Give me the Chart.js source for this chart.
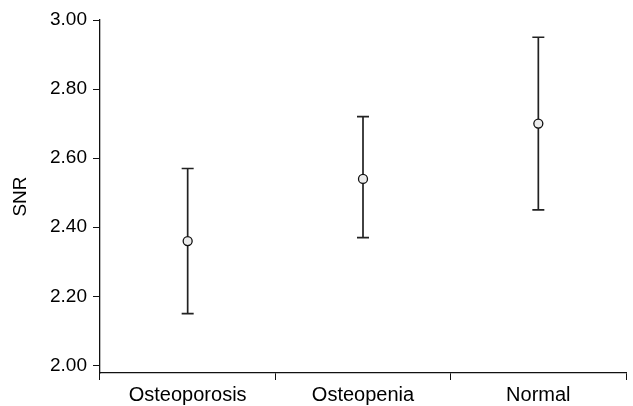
<!DOCTYPE html>
<html>
<head>
<meta charset="utf-8">
<script src="https://cdn.jsdelivr.net/npm/chart.js@4/dist/chart.umd.min.js"></script>
<style>
  html, body { margin: 0; padding: 0; background: #fff; }
  #wrap { width: 633px; height: 406px; }
</style>
</head>
<body>
<div id="wrap"><canvas id="out"></canvas></div>
<script>
const groups = ["Osteoporosis", "Osteopenia", "Normal"];
const snrMean = [2.36, 2.54, 2.70];
const snrLow = [2.15, 2.37, 2.45];
const snrHigh = [2.57, 2.72, 2.95];
const yTicks = [2.0, 2.2, 2.4, 2.6, 2.8, 3.0];

const fontFamily = "'Liberation Sans', Arial, sans-serif";

// whiskers drawn under the points, positioned through the chart scales
const errorBars = {
  id: "errorBars",
  beforeDatasetsDraw(chart) {
    const ctx = chart.ctx;
    const xs = chart.scales.x;
    const ys = chart.scales.y;
    ctx.save();
    ctx.strokeStyle = "#222";
    ctx.lineWidth = 1.7;
    for (let i = 0; i < groups.length; i++) {
      const x = xs.getPixelForValue(i);
      const top = ys.getPixelForValue(snrHigh[i]);
      const bottom = ys.getPixelForValue(snrLow[i]);
      ctx.beginPath();
      ctx.moveTo(x, top);
      ctx.lineTo(x, bottom);
      ctx.moveTo(x - 6, top);
      ctx.lineTo(x + 6, top);
      ctx.moveTo(x - 6, bottom);
      ctx.lineTo(x + 6, bottom);
      ctx.stroke();
    }
    ctx.restore();
  }
};

const chartConfig = {
  type: "line",
  data: {
    labels: groups,
    datasets: [{
      label: "SNR",
      data: snrMean,
      showLine: false,
      pointRadius: 4.5,
      pointHoverRadius: 4.5,
      pointBackgroundColor: "#ececec",
      pointBorderColor: "#111",
      pointBorderWidth: 1.3
    }]
  },
  options: {
    responsive: true,
    maintainAspectRatio: false,
    animation: false,
    layout: { padding: { top: 20, right: 7, bottom: 0, left: 0 } },
    plugins: {
      legend: { display: false },
      tooltip: { enabled: false }
    },
    scales: {
      x: {
        type: "category",
        offset: true,
        grid: {
          offset: true,
          drawOnChartArea: false,
          drawTicks: true,
          tickLength: 7,
          color: "#111",
          lineWidth: 1
        },
        border: { display: true, color: "#111", width: 1.3 },
        ticks: {
          color: "#000",
          padding: 3,
          maxRotation: 0,
          font: { family: fontFamily, size: 20 }
        },
        afterFit: s => { s.height = 33; }
      },
      y: {
        min: 1.978,
        max: 3.0,
        afterBuildTicks: s => { s.ticks = yTicks.map(v => ({ value: v })); },
        grid: {
          drawOnChartArea: false,
          drawTicks: true,
          tickLength: 7,
          color: "#111",
          lineWidth: 1
        },
        border: { display: true, color: "#111", width: 1.3 },
        ticks: {
          color: "#000",
          padding: 6,
          font: { family: fontFamily, size: 19 },
          callback: v => Number(v).toFixed(2)
        },
        title: {
          display: true,
          text: "SNR",
          color: "#000",
          padding: { top: 9, bottom: 0 },
          font: { family: fontFamily, size: 19 }
        },
        afterFit: s => { s.width = 100; }
      }
    }
  },
  plugins: [errorBars]
};

window.chart = new Chart(document.getElementById("out").getContext("2d"), chartConfig);
</script>
</body>
</html>
